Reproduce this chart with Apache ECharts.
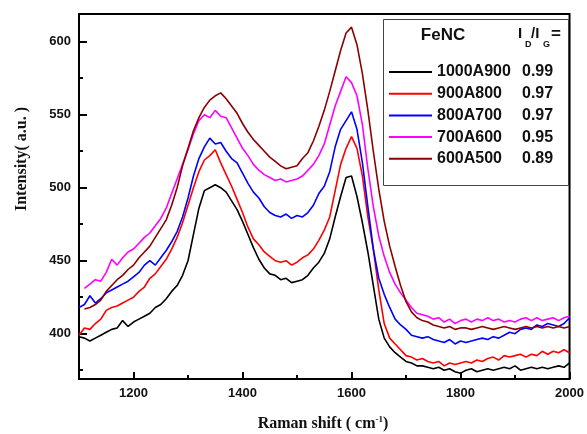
<!DOCTYPE html>
<html>
<head>
<meta charset="utf-8">
<script src="https://cdn.jsdelivr.net/npm/echarts@6/dist/echarts.min.js"></script>
<style>
html,body{margin:0;padding:0;background:#fff;}
#chart{width:587px;height:434px;}
</style>
</head>
<body>
<div id="chart"></div>
<script>
// Raman shift (cm-1) sample positions
const ramanShift = [
1100,1110,1120,1130,1140,1150,1160,1170,1180,1190,
1200,1210,1220,1230,1240,1250,1260,1270,1280,1290,
1300,1310,1320,1330,1340,1350,1360,1370,1380,1390,
1400,1410,1420,1430,1440,1450,1460,1470,1480,1490,
1500,1510,1520,1530,1540,1550,1560,1570,1580,1590,
1600,1610,1620,1630,1640,1650,1660,1670,1680,1690,
1700,1710,1720,1730,1740,1750,1760,1770,1780,1790,
1800,1810,1820,1830,1840,1850,1860,1870,1880,1890,
1900,1910,1920,1930,1940,1950,1960,1970,1980,1990,
2000];

const s1000A900 = [
398,397,395,397,399,401,403,404,409,405,
408,410,412,414,418,420,424,429,433,440,
450,468,486,498,500,502,500,497,491,485,
477,468,459,451,445,441,440,437,438,435,
436,437,440,445,449,455,465,480,494,507,
508,494,476,456,433,410,397,391,387,384,
381,380,378,378,377,376,377,375,376,374,
373,375,376,374,375,376,375,376,377,376,
378,375,376,377,376,377,376,377,378,377,
380];

const s900A800 = [
399,404,403,407,410,416,418,419,421,423,
425,429,432,438,441,446,451,458,466,476,
488,500,511,519,522,526,517,509,501,492,
483,473,465,461,456,453,450,449,450,447,
449,452,454,458,464,471,480,498,516,527,
535,527,508,480,458,430,407,397,393,389,
385,384,382,383,381,380,381,378,380,379,
380,381,380,382,381,383,384,382,385,384,
385,386,384,386,385,388,386,388,387,389,
387];

const s800A700 = [
418,420,426,421,424,428,430,432,434,436,
439,442,447,450,447,452,457,463,470,480,
493,508,520,528,534,530,531,525,520,517,
510,503,497,493,487,483,481,480,482,479,
481,480,483,488,496,501,511,528,540,546,
552,540,517,487,458,438,427,418,410,406,
403,399,398,397,398,396,395,394,396,393,
395,394,395,396,397,396,398,397,399,401,
400,403,404,403,406,405,407,406,405,407,
411];

const s700A600 = [
null,431,434,437,436,442,451,447,452,456,
458,462,466,469,474,479,486,496,506,516,
526,537,546,550,548,553,549,548,541,534,
527,522,516,512,509,507,505,506,504,505,
506,508,512,516,522,530,543,556,566,576,
572,563,543,513,487,467,453,442,434,428,
423,418,414,413,412,410,411,408,410,407,
409,410,408,410,409,411,409,410,408,409,
408,410,411,409,411,409,410,411,409,411,
412];

const s600A500 = [
null,417,418,420,423,429,433,437,440,444,
447,452,456,460,466,472,478,488,500,515,
527,539,548,555,560,563,565,561,556,551,
544,538,533,529,525,521,518,515,513,514,
515,520,524,532,542,553,566,580,594,606,
610,598,578,553,525,499,477,460,446,433,
422,415,411,409,408,406,405,404,405,403,
404,404,403,404,405,404,403,404,405,404,
403,404,405,404,405,404,405,404,405,404,
405];

const seriesNames = ['1000A900','900A800','800A700','700A600','600A500'];
const seriesValues = [s1000A900, s900A800, s800A700, s700A600, s600A500];
const ratios = ['0.99','0.97','0.97','0.95','0.89'];
const colors = ['#000000','#ff0000','#0000ff','#ff00ff','#8b0000'];

const xMajorTicks = [1200,1400,1600,1800,2000];
const xMinorTicks = [1300,1500,1700,1900];
const yMajorTicks = [400,450,500,550,600];
const yMinorTicks = [375,425,475,525,575];

const ratioOf = {};
seriesNames.forEach((n,i)=>{ ratioOf[n] = ratios[i]; });

const chart = echarts.init(document.getElementById('chart'), null, {renderer:'canvas'});

const SANS = 'Liberation Sans, Arial, sans-serif';
const SERIF = 'Liberation Serif, Times New Roman, serif';
const labelFont = {fontFamily:SANS, fontWeight:'bold', fontSize:13, color:'#111'};
const plain = v => String(v);

const option = {
  animation: false,
  backgroundColor: '#fff',
  grid: {left:79, right:15, top:14, bottom:55, show:true, borderColor:'#000', borderWidth:2, backgroundColor:'transparent'},
  xAxis: [
    {type:'value', min:1100, max:2000, position:'bottom',
     axisLine:{show:false}, splitLine:{show:false},
     axisTick:{show:true, inside:true, length:7, customValues:xMajorTicks, lineStyle:{color:'#000', width:2}},
     axisLabel:Object.assign({show:true, margin:8, customValues:xMajorTicks, formatter:plain}, labelFont)},
    {type:'value', min:1100, max:2000, position:'bottom',
     axisLine:{show:false}, splitLine:{show:false},
     axisTick:{show:true, inside:true, length:4, customValues:xMinorTicks, lineStyle:{color:'#000', width:2}},
     axisLabel:{show:false}}
  ],
  yAxis: [
    {type:'value', min:369, max:619, position:'left',
     axisLine:{show:false}, splitLine:{show:false},
     axisTick:{show:true, inside:true, length:8, customValues:yMajorTicks, lineStyle:{color:'#000', width:2}},
     axisLabel:Object.assign({show:true, margin:8, customValues:yMajorTicks, formatter:plain}, labelFont)},
    {type:'value', min:369, max:619, position:'left',
     axisLine:{show:false}, splitLine:{show:false},
     axisTick:{show:true, inside:true, length:4, customValues:yMinorTicks, lineStyle:{color:'#000', width:2}},
     axisLabel:{show:false}}
  ],
  legend: {
    orient:'vertical', left:389, top:64, padding:0,
    itemWidth:43, itemHeight:2, itemGap:5.7, icon:'rect',
    data: seriesNames,
    formatter: function(name){ return '{n|' + name + '}{v|' + ratioOf[name] + '}'; },
    textStyle: {
      fontFamily:SANS, fontWeight:'bold', fontSize:16, color:'#111', lineHeight:16,
      rich: {
        n:{width:85, fontFamily:SANS, fontWeight:'bold', fontSize:16, lineHeight:16, color:'#111'},
        v:{fontFamily:SANS, fontWeight:'bold', fontSize:16, lineHeight:16, color:'#111'}
      }
    }
  },
  graphic: [
    {type:'rect', z:3, shape:{x:383.5, y:19.5, width:185, height:166}, style:{fill:'#fff', stroke:'#444', lineWidth:1}},
    {type:'text', z:5, x:443, y:35, style:{text:'FeNC', fontFamily:SANS, fontWeight:'bold', fontSize:17, fill:'#111', align:'center', verticalAlign:'middle'}},
    {type:'text', z:5, x:518, y:34, style:{text:'I', fontFamily:SANS, fontWeight:'bold', fontSize:15, fill:'#111', align:'left', verticalAlign:'middle'}},
    {type:'text', z:5, x:525, y:45, style:{text:'D', fontFamily:SANS, fontWeight:'bold', fontSize:9, fill:'#111', align:'left', verticalAlign:'middle'}},
    {type:'text', z:5, x:531, y:34, style:{text:'/I', fontFamily:SANS, fontWeight:'bold', fontSize:15, fill:'#111', align:'left', verticalAlign:'middle'}},
    {type:'text', z:5, x:543, y:45, style:{text:'G', fontFamily:SANS, fontWeight:'bold', fontSize:9, fill:'#111', align:'left', verticalAlign:'middle'}},
    {type:'text', z:5, x:551, y:34, style:{text:'=', fontFamily:SANS, fontWeight:'bold', fontSize:17, fill:'#111', align:'left', verticalAlign:'middle'}},
    {type:'text', z:5, x:22, y:159, rotation:Math.PI/2, style:{text:'Intensity( a.u. )', fontFamily:SERIF, fontWeight:'bold', fontSize:16, fill:'#111', align:'center', verticalAlign:'middle'}},
    {type:'text', z:5, x:323, y:424, style:{
      text:'{a|Raman shift ( cm}{s|-1}{a|)}', align:'center', verticalAlign:'middle',
      rich:{
        a:{fontFamily:SERIF, fontWeight:'bold', fontSize:16, fill:'#111', lineHeight:18},
        s:{fontFamily:SERIF, fontWeight:'bold', fontSize:9, fill:'#111', verticalAlign:'top', lineHeight:10}
      }}}
  ],
  series: seriesNames.map((name,i)=>({
    name: name,
    type: 'line',
    xAxisIndex: 0, yAxisIndex: 0,
    showSymbol: false, symbol:'none',
    connectNulls: false,
    z: 2,
    lineStyle: {color: colors[i], width: 1.6},
    itemStyle: {color: colors[i]},
    data: ramanShift.map((x,j)=>[x, seriesValues[i][j]])
  }))
};
chart.setOption(option);
</script>
</body>
</html>
